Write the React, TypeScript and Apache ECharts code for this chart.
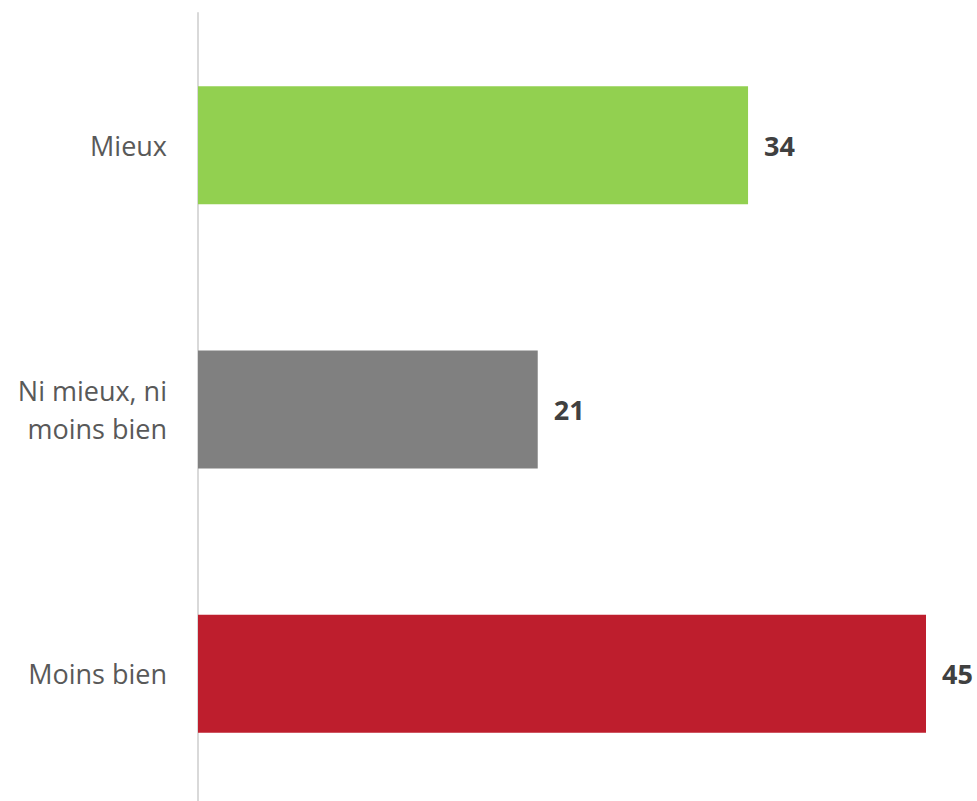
import React, { useEffect, useRef } from "react";
import * as echarts from "echarts";

const categories = ["Mieux", "Ni mieux, ni\nmoins bien", "Moins bien"];
const values = [34, 21, 45];
const colors = ["#92D050", "#808080", "#BE1E2D"];

export default function App() {
  const ref = useRef<HTMLDivElement>(null);
  useEffect(() => {
    if (!ref.current) return;
    const chart = echarts.init(ref.current, undefined, { renderer: "svg" });
    chart.setOption({
      animation: false,
      backgroundColor: "#ffffff",
      grid: { left: 198, right: 51, top: 13, bottom: 0 },
      xAxis: {
        type: "value",
        min: 0,
        max: 45,
        show: false,
      },
      yAxis: {
        type: "category",
        inverse: true,
        data: categories,
        axisLine: { show: true, lineStyle: { color: "#D9D9D9", width: 2 } },
        axisTick: { show: false },
        axisLabel: {
          margin: 31,
          color: "#595959",
          fontFamily: "Open Sans",
          fontSize: 27,
          lineHeight: 38,
          align: "right",
        },
      },
      series: [
        {
          type: "bar",
          barWidth: 118,
          data: values.map((v, i) => ({ value: v, itemStyle: { color: colors[i] } })),
          label: {
            show: true,
            position: "right",
            distance: 16,
            color: "#404040",
            fontFamily: "Open Sans",
            fontWeight: "bold",
            fontSize: 27,
          },
        },
      ],
    });
    return () => chart.dispose();
  }, []);
  return (
    <div
      ref={ref}
      style={{ position: "fixed", left: 0, top: 0, width: 977, height: 806 }}
    />
  );
}
